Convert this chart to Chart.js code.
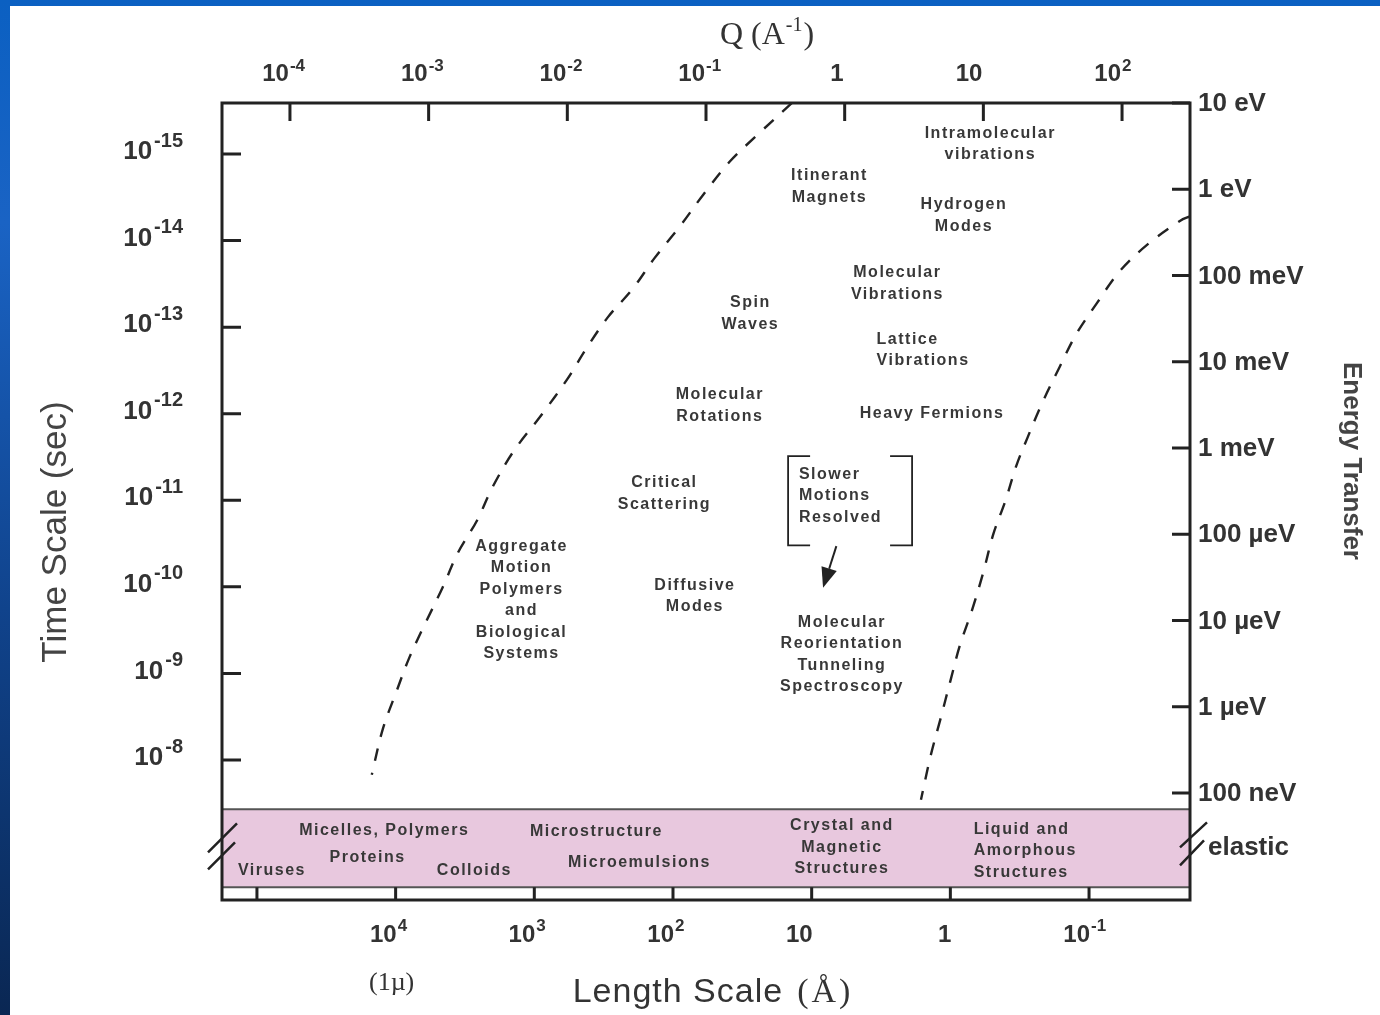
<!DOCTYPE html>
<html>
<head>
<meta charset="utf-8">
<title>Neutron scattering: time and length scales</title>
<script src="https://cdn.jsdelivr.net/npm/chart.js@4.4.1/dist/chart.umd.min.js"></script>
<style>
  html, body { margin: 0; padding: 0; width: 1380px; height: 1015px; overflow: hidden;
    background: linear-gradient(180deg, #0b60c2 0%, #1a63c4 22%, #10438c 60%, #0a2753 100%); }
  #sheet { position: absolute; left: 10px; top: 6px; width: 1370px; height: 1009px; background: #fff; }
  #c { position: absolute; left: 0; top: 0; }
</style>
</head>
<body>
<div id="sheet"></div>
<canvas id="c" width="1380" height="1015"></canvas>
<script>
// ---- Axis decades (log10 values) and their labels ('^' marks a superscript) ----
const qTickExp = [-4, -3, -2, -1, 0, 1, 2];
const qTickLabels = ['10^-4', '10^-3', '10^-2', '10^-1', '1', '10', '10^2'];

const lengthTickExp = [5, 4, 3, 2, 1, 0, -1];
const lengthTickLabels = ['', '10^4', '10^3', '10^2', '10', '1', '10^-1'];

const timeTickExp = [-15, -14, -13, -12, -11, -10, -9, -8];
const timeTickLabels = ['10^-15', '10^-14', '10^-13', '10^-12', '10^-11', '10^-10', '10^-9', '10^-8'];

const energyTickExp = [1, 0, -1, -2, -3, -4, -5, -6, -7];
const energyTickLabels = ['10 eV', '1 eV', '100 meV', '10 meV', '1 meV', '100 \u00B5eV', '10 \u00B5eV', '1 \u00B5eV', '100 neV'];

// ---- Accessible-region boundaries: log10 Q (1/Å) and log10 time (s) ----
const lowerBoundQ = [-0.38, -0.63, -0.83, -1.02, -1.19, -1.37, -1.53, -1.71, -1.86, -2.00, -2.18,
                     -2.39, -2.54, -2.65, -2.79, -2.90, -3.03, -3.14, -3.23, -3.33, -3.41];
const lowerBoundT = [-15.59, -15.22, -14.91, -14.53, -14.16, -13.80, -13.44, -13.11, -12.76, -12.40, -12.00,
                     -11.56, -11.15, -10.77, -10.39, -9.99, -9.56, -9.18, -8.80, -8.36, -7.83];

const upperBoundQ = [2.49, 2.42, 2.18, 1.98, 1.82, 1.67, 1.55, 1.42, 1.32, 1.24, 1.16,
                     1.07, 1.00, 0.92, 0.83, 0.76, 0.69, 0.62, 0.55];
const upperBoundT = [-14.28, -14.23, -13.95, -13.64, -13.28, -12.92, -12.54, -12.11, -11.73, -11.41, -11.00,
                     -10.60, -10.17, -9.74, -9.32, -8.90, -8.47, -8.05, -7.54];

// Elastic (diffraction) strip, log10 time range
const elasticBand = [-7.43, -6.53];

// Phenomena inside the dynamic window (anchor in log10 Q, log10 t)
const regionLabels = [
  { lines: ['Intramolecular', 'vibrations'], q: 1.05, t: -15.24 },
  { lines: ['Itinerant', 'Magnets'], q: -0.11, t: -14.75 },
  { lines: ['Hydrogen', 'Modes'], q: 0.86, t: -14.41 },
  { lines: ['Molecular', 'Vibrations'], q: 0.38, t: -13.63 },
  { lines: ['Spin', 'Waves'], q: -0.68, t: -13.28 },
  { lines: ['Lattice', 'Vibrations'], q: 0.23, t: -12.86, align: 'left' },
  { lines: ['Molecular', 'Rotations'], q: -0.90, t: -12.22 },
  { lines: ['Heavy Fermions'], q: 0.63, t: -12.00 },
  { lines: ['Critical', 'Scattering'], q: -1.30, t: -11.20 },
  { lines: ['Slower', 'Motions', 'Resolved'], q: -0.33, t: -11.30, align: 'left' },
  { lines: ['Aggregate', 'Motion', 'Polymers', 'and', 'Biological', 'Systems'], q: -2.33, t: -10.47 },
  { lines: ['Diffusive', 'Modes'], q: -1.08, t: -10.02 },
  { lines: ['Molecular', 'Reorientation', 'Tunneling', 'Spectroscopy'], q: -0.02, t: -9.59 }
];

// Structures seen in the elastic strip
const bandLabels = [
  { lines: ['Micelles, Polymers'], q: -3.32, t: -7.19 },
  { lines: ['Proteins'], q: -3.44, t: -6.87 },
  { lines: ['Viruses'], q: -4.13, t: -6.72 },
  { lines: ['Colloids'], q: -2.67, t: -6.72 },
  { lines: ['Microstructure'], q: -1.79, t: -7.17 },
  { lines: ['Microemulsions'], q: -1.48, t: -6.82 },
  { lines: ['Crystal and', 'Magnetic', 'Structures'], q: -0.02, t: -7.24 },
  { lines: ['Liquid and', 'Amorphous', 'Structures'], q: 0.93, t: -7.20, align: 'left' }
];

// Bracket around "Slower Motions Resolved" and the arrow pointing down from it
const bracketQ = [-0.408, 0.486];
const bracketT = [-11.51, -10.48];
const arrowQ = [-0.06, -0.156];
const arrowT = [-10.47, -9.99];

const SANS = '"Liberation Sans", Arial, Helvetica, sans-serif';
const SERIF = '"Liberation Serif", "Times New Roman", serif';
const INK = '#222';
const TEXT = '#333';

function drawPow(ctx, label, x, y, o) {
  const parts = label.split('^');
  const base = parts[0], sup = parts[1] || '';
  ctx.letterSpacing = o.spacing || '0px';
  ctx.font = `bold ${o.size}px ${SANS}`;
  const wb = ctx.measureText(base).width;
  let ws = 0;
  if (sup) {
    ctx.font = `bold ${o.supSize}px ${SANS}`;
    ws = ctx.measureText(sup).width + o.gap;
  }
  let x0;
  if (o.anchor === 'baseRight') x0 = x - wb;
  else if (o.anchor === 'right') x0 = x - wb - ws;
  else x0 = x - (wb + ws) / 2;
  ctx.textAlign = 'left';
  ctx.textBaseline = 'middle';
  ctx.font = `bold ${o.size}px ${SANS}`;
  ctx.fillText(base, x0, y);
  if (sup) {
    ctx.font = `bold ${o.supSize}px ${SANS}`;
    ctx.fillText(sup, x0 + wb + o.gap, y - o.rise);
  }
  ctx.letterSpacing = '0px';
}

function drawBlock(ctx, lab, xs, ys) {
  const x = xs.getPixelForValue(lab.q);
  const y = ys.getPixelForValue(lab.t);
  ctx.textAlign = lab.align === 'left' ? 'left' : 'center';
  lab.lines.forEach((s, i) => ctx.fillText(s, x, y + i * 21.5));
}

const framePlugin = {
  id: 'frame',
  beforeDatasetsDraw(chart) {
    const { ctx, chartArea: a } = chart;
    const ts = chart.scales.t;
    const y0 = ts.getPixelForValue(elasticBand[0]);
    const y1 = ts.getPixelForValue(elasticBand[1]);
    ctx.save();
    ctx.fillStyle = '#e8c8de';
    ctx.fillRect(a.left, y0, a.right - a.left, y1 - y0);
    ctx.strokeStyle = '#555';
    ctx.lineWidth = 2;
    ctx.beginPath();
    ctx.moveTo(a.left, y0); ctx.lineTo(a.right, y0);
    ctx.moveTo(a.left, y1); ctx.lineTo(a.right, y1);
    ctx.stroke();
    ctx.restore();
  },
  afterDraw(chart) {
    const { ctx, chartArea: a } = chart;
    const qs = chart.scales.q, ls = chart.scales.len, ts = chart.scales.t, es = chart.scales.energy;
    const bandTop = ts.getPixelForValue(elasticBand[0]);
    const bandBot = ts.getPixelForValue(elasticBand[1]);
    const bandMid = (bandTop + bandBot) / 2;
    ctx.save();

    // plot frame
    ctx.strokeStyle = INK;
    ctx.lineWidth = 3;
    ctx.strokeRect(a.left, a.top, a.right - a.left, a.bottom - a.top);

    // inward ticks
    ctx.lineWidth = 3;
    ctx.beginPath();
    qTickExp.forEach(v => { const x = qs.getPixelForValue(v); ctx.moveTo(x, a.top); ctx.lineTo(x, a.top + 18); });
    lengthTickExp.forEach(v => { const x = ls.getPixelForValue(v); ctx.moveTo(x, a.bottom); ctx.lineTo(x, bandBot); });
    timeTickExp.forEach(v => { const y = ts.getPixelForValue(v); ctx.moveTo(a.left, y); ctx.lineTo(a.left + 19, y); });
    energyTickExp.forEach(v => { const y = es.getPixelForValue(v); ctx.moveTo(a.right, y); ctx.lineTo(a.right - 18, y); });
    ctx.stroke();

    // axis breaks beside the elastic strip
    ctx.lineWidth = 2.5;
    ctx.beginPath();
    ctx.moveTo(a.left - 14, bandMid + 4);  ctx.lineTo(a.left + 15, bandMid - 25);
    ctx.moveTo(a.left - 14, bandMid + 21); ctx.lineTo(a.left + 13, bandMid - 6);
    ctx.moveTo(a.right - 10, bandMid - 1); ctx.lineTo(a.right + 17, bandMid - 26);
    ctx.moveTo(a.right - 10, bandMid + 17); ctx.lineTo(a.right + 14, bandMid - 8);
    ctx.stroke();

    // tick labels
    ctx.fillStyle = TEXT;
    qTickExp.forEach((v, i) => drawPow(ctx, qTickLabels[i], qs.getPixelForValue(v) - 1, a.top - 29,
      { size: 24, supSize: 17, gap: 1, rise: 8, anchor: 'baseRight' }));
    lengthTickExp.forEach((v, i) => {
      if (lengthTickLabels[i]) drawPow(ctx, lengthTickLabels[i], ls.getPixelForValue(v) + 1, a.bottom + 35,
        { size: 24, supSize: 17, gap: 1, rise: 9, anchor: 'baseRight' });
    });
    timeTickExp.forEach((v, i) => drawPow(ctx, timeTickLabels[i], a.left - 39, ts.getPixelForValue(v) - 2,
      { size: 26, supSize: 20, gap: 2, rise: 11, anchor: 'right' }));
    ctx.font = `bold 26px ${SANS}`;
    ctx.textAlign = 'left';
    ctx.textBaseline = 'middle';
    energyTickExp.forEach((v, i) => ctx.fillText(energyTickLabels[i], a.right + 8, es.getPixelForValue(v) + 1));
    ctx.fillText('elastic', a.right + 18, bandMid);

    // axis titles
    ctx.fillStyle = TEXT;
    ctx.textBaseline = 'alphabetic';
    // Q (A^-1) on top, serif
    ctx.font = `32px ${SERIF}`;
    const t1 = 'Q (A', t3 = ')';
    const w1 = ctx.measureText(t1).width, w3 = ctx.measureText(t3).width;
    ctx.font = `20px ${SERIF}`;
    const w2 = ctx.measureText('-1').width;
    const qx = (a.left + a.right) / 2 + 61 - (w1 + w2 + w3 + 2) / 2;
    ctx.font = `32px ${SERIF}`;
    ctx.textAlign = 'left';
    ctx.fillText(t1, qx, 44);
    ctx.font = `20px ${SERIF}`;
    ctx.fillText('-1', qx + w1 + 1, 31);
    ctx.font = `32px ${SERIF}`;
    ctx.fillText(t3, qx + w1 + w2 + 2, 44);

    // Length Scale (Å) at the bottom
    ctx.font = `34px ${SANS}`;
    ctx.letterSpacing = '1px';
    const lt = 'Length Scale';
    const lw = ctx.measureText(lt).width;
    ctx.font = `34px ${SERIF}`;
    ctx.letterSpacing = '3px';
    const aw = ctx.measureText('(\u00C5)').width;
    const lx = 713 - (lw + aw + 14) / 2;
    ctx.font = `34px ${SANS}`;
    ctx.letterSpacing = '1px';
    ctx.fillText(lt, lx, 1002);
    ctx.font = `34px ${SERIF}`;
    ctx.letterSpacing = '3px';
    ctx.fillText('(\u00C5)', lx + lw + 14, 1002);
    ctx.letterSpacing = '0px';

    // (1µ) under the 10^4 Å tick
    ctx.font = `26px ${SERIF}`;
    ctx.textAlign = 'center';
    ctx.fillText('(1\u00B5)', ls.getPixelForValue(4) - 4, 990);

    // Time Scale (sec), rotated
    ctx.save();
    ctx.translate(56, 532);
    ctx.rotate(-Math.PI / 2);
    ctx.font = `35px ${SANS}`;
    ctx.textAlign = 'center';
    ctx.textBaseline = 'middle';
    ctx.fillStyle = '#444';
    ctx.fillText('Time Scale (sec)', 0, 0);
    ctx.restore();

    // Energy Transfer, rotated the other way
    ctx.save();
    ctx.translate(1351, 461);
    ctx.rotate(Math.PI / 2);
    ctx.font = `bold 26px ${SANS}`;
    ctx.textAlign = 'center';
    ctx.textBaseline = 'middle';
    ctx.fillStyle = '#444';
    ctx.fillText('Energy Transfer', 0, 0);
    ctx.restore();

    // region labels
    ctx.fillStyle = '#383838';
    ctx.font = `bold 16px ${SANS}`;
    ctx.letterSpacing = '1.5px';
    ctx.textBaseline = 'middle';
    regionLabels.forEach(l => drawBlock(ctx, l, qs, ts));
    bandLabels.forEach(l => drawBlock(ctx, l, qs, ts));
    ctx.letterSpacing = '0px';

    // bracket
    const bx0 = qs.getPixelForValue(bracketQ[0]), bx1 = qs.getPixelForValue(bracketQ[1]);
    const by0 = ts.getPixelForValue(bracketT[0]), by1 = ts.getPixelForValue(bracketT[1]);
    ctx.strokeStyle = INK;
    ctx.lineWidth = 1.8;
    ctx.beginPath();
    ctx.moveTo(bx0 + 22, by0); ctx.lineTo(bx0, by0); ctx.lineTo(bx0, by1); ctx.lineTo(bx0 + 22, by1);
    ctx.moveTo(bx1 - 22, by0); ctx.lineTo(bx1, by0); ctx.lineTo(bx1, by1); ctx.lineTo(bx1 - 22, by1);
    ctx.stroke();

    // arrow
    const ax0 = qs.getPixelForValue(arrowQ[0]), ay0 = ts.getPixelForValue(arrowT[0]);
    const ax1 = qs.getPixelForValue(arrowQ[1]), ay1 = ts.getPixelForValue(arrowT[1]);
    const ang = Math.atan2(ay1 - ay0, ax1 - ax0);
    const hl = 20, hw = 8;
    const bxh = ax1 - hl * Math.cos(ang), byh = ay1 - hl * Math.sin(ang);
    ctx.lineWidth = 2;
    ctx.beginPath();
    ctx.moveTo(ax0, ay0); ctx.lineTo(bxh, byh);
    ctx.stroke();
    ctx.fillStyle = INK;
    ctx.beginPath();
    ctx.moveTo(ax1, ay1);
    ctx.lineTo(bxh + hw * Math.sin(ang), byh - hw * Math.cos(ang));
    ctx.lineTo(bxh - hw * Math.sin(ang), byh + hw * Math.cos(ang));
    ctx.closePath();
    ctx.fill();

    ctx.restore();
  }
};

const toPoints = (qs, ts) => qs.map((q, i) => ({ x: q, y: ts[i] }));

const curveStyle = {
  showLine: true,
  borderColor: INK,
  borderWidth: 2.4,
  borderDash: [13, 12],
  pointRadius: 0,
  tension: 0.35,
  fill: false,
  xAxisID: 'q',
  yAxisID: 't'
};

new Chart(document.getElementById('c'), {
  type: 'scatter',
  data: {
    datasets: [
      Object.assign({ label: 'Low-Q limit', data: toPoints(lowerBoundQ, lowerBoundT) }, curveStyle),
      Object.assign({ label: 'High-Q limit', data: toPoints(upperBoundQ, upperBoundT) }, curveStyle)
    ]
  },
  options: {
    responsive: false,
    animation: false,
    events: [],
    layout: { padding: { left: 222, right: 190, top: 103, bottom: 115 } },
    scales: {
      q: { type: 'linear', position: 'top', min: -4.49, max: 2.49, display: false },
      len: { type: 'linear', position: 'bottom', reverse: true, min: -1.728, max: 5.252, display: false },
      t: { type: 'linear', position: 'left', reverse: true, min: -15.589, max: -6.383, display: false },
      energy: { type: 'linear', position: 'right', min: -8.24, max: 1.0, display: false }
    },
    plugins: { legend: { display: false }, tooltip: { enabled: false }, title: { display: false } }
  },
  plugins: [framePlugin]
});
</script>
</body>
</html>
